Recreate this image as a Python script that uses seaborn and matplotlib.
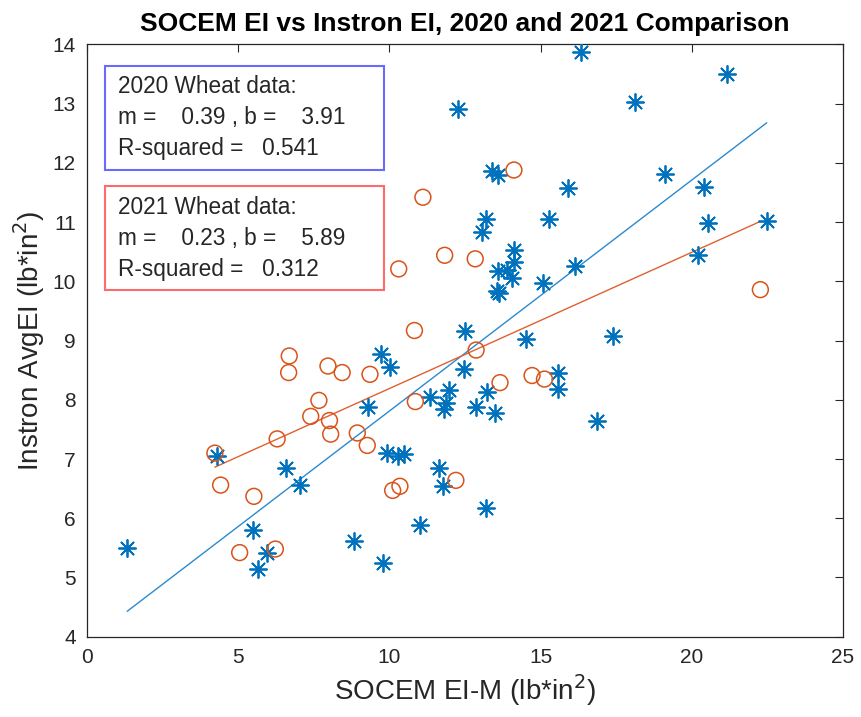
import numpy as np
import matplotlib
matplotlib.use("Agg")
import matplotlib.pyplot as plt
from matplotlib.patches import Rectangle
import seaborn as sns

# 2020 wheat data (asterisks)
x2020 = [16.35, 12.27, 18.14, 13.38, 13.60, 15.90, 19.12, 13.20, 13.07, 15.27,
         21.18, 20.40, 20.55, 22.48, 14.12, 14.12, 13.59, 13.90, 14.06, 13.57,
         13.62, 15.08, 16.14, 12.50, 14.51, 17.40, 9.72, 10.03, 12.47, 15.57,
         15.57, 11.98, 13.24, 11.35, 11.87, 11.81, 12.86, 13.48, 16.86, 20.21,
         9.29, 4.29, 6.57, 7.03, 5.50, 1.33, 5.97, 5.65, 8.82, 9.80,
         9.91, 10.27, 10.49, 11.65, 11.76, 13.19, 11.01]
y2020 = [13.88, 12.91, 13.03, 11.87, 11.80, 11.57, 11.82, 11.05, 10.84, 11.06,
         13.50, 11.60, 10.99, 11.02, 10.53, 10.33, 10.18, 10.19, 10.06, 9.84,
         9.80, 9.98, 10.26, 9.17, 9.02, 9.08, 8.78, 8.56, 8.52, 8.45,
         8.19, 8.16, 8.14, 8.05, 7.94, 7.84, 7.88, 7.77, 7.65, 10.44,
         7.87, 7.05, 6.84, 6.56, 5.80, 5.50, 5.42, 5.14, 5.61, 5.24,
         7.11, 7.05, 7.08, 6.85, 6.55, 6.18, 5.88]

# 2021 wheat data (circles)
x2021 = [11.11, 14.12, 11.83, 12.84, 10.31, 10.83, 12.87, 13.66, 14.72, 15.13,
         10.86, 22.27, 6.69, 6.67, 7.97, 8.44, 9.36, 7.67, 7.40, 8.02,
         4.23, 6.29, 8.06, 8.94, 9.27, 4.42, 5.52, 5.05, 6.23, 10.11,
         10.35, 12.20]
y2021 = [11.42, 11.88, 10.44, 10.38, 10.21, 9.17, 8.84, 8.29, 8.41, 8.35,
         7.97, 9.86, 8.74, 8.46, 8.57, 8.46, 8.43, 7.99, 7.72, 7.65,
         7.10, 7.34, 7.42, 7.44, 7.23, 6.56, 6.37, 5.42, 5.48, 6.47,
         6.54, 6.64]

# fit results shown in the boxes
fit2020 = {"m": 0.39, "b": 3.91, "r2": 0.541}
fit2021 = {"m": 0.23, "b": 5.89, "r2": 0.312}

blue = "#0072BD"
orange = "#D95319"
grey = "#262626"

sns.set_style("white")
plt.rcParams["font.family"] = ["Liberation Sans", "DejaVu Sans"]

fig, ax = plt.subplots(figsize=(8.61, 7.17), dpi=100)
fig.subplots_adjust(left=0.101, right=0.979, bottom=0.112, top=0.938)

# scatter points
sns.scatterplot(x=x2020, y=y2020, marker=(8, 2, 0), s=150, color=blue,
                linewidth=1.3, ax=ax, zorder=3)
sns.scatterplot(x=x2021, y=y2021, marker="o", s=130, color=orange,
                facecolor="none", edgecolor=orange, linewidth=1.1, ax=ax, zorder=3)

# fit lines over the range of each data set
xs20 = np.array([min(x2020), max(x2020)])
xs21 = np.array([min(x2021), max(x2021)])
sns.lineplot(x=xs20, y=fit2020["m"] * xs20 + fit2020["b"], color="#2a8ad0", lw=1.0, ax=ax)
sns.lineplot(x=xs21, y=fit2021["m"] * xs21 + fit2021["b"], color="#e06030", lw=1.0, ax=ax)

ax.set_xlim(0, 25)
ax.set_ylim(4, 14)
ax.set_xticks(range(0, 26, 5))
ax.set_yticks(range(4, 15))
ax.tick_params(direction="in", top=True, right=True, length=6, width=0.8,
               labelsize=15, colors=grey, pad=8)
for sp in ax.spines.values():
    sp.set_color(grey)
    sp.set_linewidth(0.9)

ax.set_xlabel("SOCEM EI-M (lb*in$^2$)", fontsize=20, color=grey, labelpad=4)
ax.set_ylabel("Instron AvgEI (lb*in$^2$)", fontsize=20, color=grey, labelpad=4)
ax.set_title("SOCEM EI vs Instron EI, 2020 and 2021 Comparison",
             fontsize=19, fontweight="bold", color="black", pad=10)

# annotation boxes
boxes = [(fit2020, "2020", "#6a6aff", 0.788), (fit2021, "2021", "#ff6a6a", 0.585)]
for fit, year, ec, y0 in boxes:
    ax.add_patch(Rectangle((0.024, y0), 0.369, 0.176, transform=ax.transAxes,
                           fill=False, edgecolor=ec, lw=1.5, zorder=4))
    txt = (f"{year} Wheat data:\n"
           f"m =    {fit['m']:.2f} , b =    {fit['b']:.2f}\n"
           f"R-squared =   {fit['r2']:.3f}")
    ax.text(0.041, y0 + 0.088, txt, transform=ax.transAxes, fontsize=16.3,
            va="center", ha="left", color=grey, linespacing=1.45, zorder=5)

plt.savefig("out.png", dpi=100)
